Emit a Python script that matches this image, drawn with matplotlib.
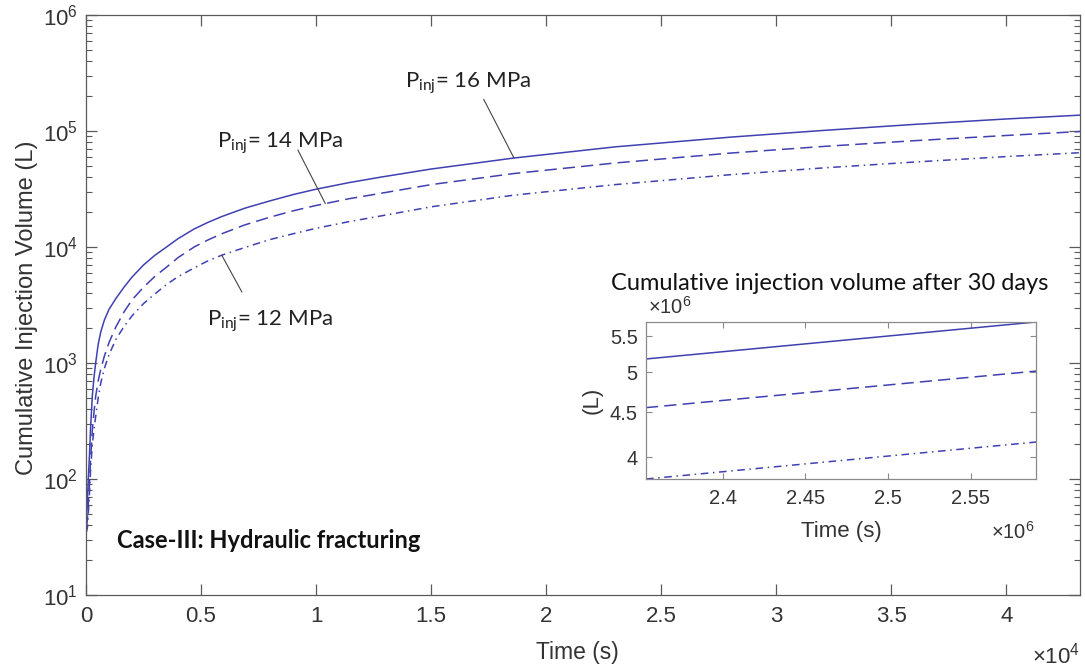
import matplotlib
matplotlib.use("Agg")
import matplotlib.pyplot as plt
from matplotlib.ticker import FixedLocator, FuncFormatter, NullLocator, LogLocator

plt.rcParams['font.family'] = ['Liberation Sans', 'DejaVu Sans']
plt.rcParams['mathtext.fontset'] = 'custom'
plt.rcParams['mathtext.rm'] = 'Liberation Sans'
plt.rcParams['mathtext.it'] = 'Liberation Sans:italic'
plt.rcParams['mathtext.bf'] = 'Liberation Sans:bold'

# ---------------- data ----------------
time_s = [20, 60, 100, 150, 200, 275, 350, 420, 530, 640, 800, 1000, 1300,
          1650, 2000, 2500, 3000, 3500, 4000, 4700, 5300, 5900, 6900, 8000,
          9000, 10000, 11400, 12800, 15000, 18600, 23000, 28000, 32000,
          36000, 40000, 43200]
vol_16MPa = [45, 65, 100, 160, 280, 520, 760, 1000, 1450, 1850, 2350, 2900,
             3600, 4500, 5500, 7000, 8500, 10000, 11800, 14300, 16300, 18300,
             21600, 25000, 28300, 31500, 35800, 40000, 47000, 58500, 73000,
             88500, 101000, 114000, 127000, 137000]
vol_14MPa = [38, 45, 60, 90, 150, 265, 380, 515, 700, 880, 1150, 1500, 2050,
             2750, 3500, 4500, 5600, 6700, 8100, 10000, 11500, 13000, 15500,
             18100, 20500, 22800, 26000, 29000, 34500, 43000, 53000, 64500,
             73500, 82500, 91500, 99000]
vol_12MPa = [35, 38, 50, 75, 120, 200, 270, 345, 500, 670, 900, 1180, 1600,
             2060, 2550, 3250, 3950, 4750, 5550, 6600, 7600, 8500, 9900,
             11600, 13000, 14500, 16500, 18500, 22200, 28000, 34500, 42000,
             48000, 54000, 60200, 65000]

inset_time_s = [2.3537e6, 2.5895e6]
inset_16MPa = [5.18e6, 5.71e6]
inset_14MPa = [4.557e6, 5.017e6]
inset_12MPa = [3.776e6, 4.162e6]

labels = ['P$_\\mathregular{inj}$= 16 MPa', 'P$_\\mathregular{inj}$= 14 MPa',
          'P$_\\mathregular{inj}$= 12 MPa']
xticks_main = [0, 5000, 10000, 15000, 20000, 25000, 30000, 35000, 40000]
xticks_inset = [2.40e6, 2.45e6, 2.50e6, 2.55e6]
yticks_inset = [4.0e6, 4.5e6, 5.0e6, 5.5e6]

# ---------------- style ----------------
W, H = 1085, 672
fig = plt.figure(figsize=(W / 100, H / 100), dpi=100)
blue = '#4040b2'
axcol = '#5a5a5a'
txtcol = '#333333'
lw = 1.1
styles = ['-', (0, (8, 4)), (0, (5, 3, 1, 3))]
annot_font = 'Lato'


def px_ax(l, t, r, b):
    return [l / W, 1 - b / H, (r - l) / W, (b - t) / H]


ax = fig.add_axes(px_ax(86, 15, 1080, 595))
for v, ls in zip([vol_16MPa, vol_14MPa, vol_12MPa], styles):
    ax.plot(time_s, v, color=blue, lw=lw, linestyle=ls)
ax.set_yscale('log')
ax.set_xlim(0, 43200)
ax.set_ylim(10, 1e6)
ax.xaxis.set_major_locator(FixedLocator(xticks_main))
ax.xaxis.set_major_formatter(FuncFormatter(lambda v, p: '%g' % (v / 1e4)))
ax.yaxis.set_major_locator(LogLocator(base=10, numticks=10))
ax.yaxis.set_minor_locator(LogLocator(base=10, subs=range(2, 10), numticks=10))

for s in ax.spines.values():
    s.set_color(axcol)
    s.set_linewidth(0.9)
ax.tick_params(which='both', direction='in', top=True, right=True,
               color=axcol, labelcolor=txtcol, labelsize=16)
ax.tick_params(which='major', length=8, width=0.9)
ax.tick_params(which='minor', length=4, width=0.8)
ax.tick_params(axis='x', pad=8)
ax.tick_params(axis='y', pad=6)

ax.set_xlabel('Time (s)', fontsize=16.5, color=txtcol)
ax.xaxis.set_label_coords(0.494, -0.08)
ax.set_ylabel('Cumulative Injection Volume (L)', fontsize=17, color=txtcol)
ax.yaxis.set_label_coords(-0.048, 0.495)
ax.text(1.0, -0.105, r'$\mathregular{\times10^{4}}$', transform=ax.transAxes,
        ha='right', va='center', fontsize=16, color=txtcol)

# annotations
label_pos = [(0.321, 0.876), (0.1318, 0.7724), (0.1217, 0.4655)]
line_start = [(17285, 1.875e5), (9207, 6.86e4), (6775, 4.09e3)]
line_end = [(time_s[29], vol_16MPa[29]), (10400, 23700), (time_s[21], vol_12MPa[21])]
for lab, (tx, ty), st, en in zip(labels, label_pos, line_start, line_end):
    ax.text(tx, ty, lab, transform=ax.transAxes, fontsize=16,
            family=annot_font, color='#222222', ha='left', va='baseline')
    ax.annotate('', xy=en, xytext=st,
                arrowprops=dict(arrowstyle='-', color='#444444', lw=0.8,
                                shrinkA=0, shrinkB=0))

ax.text(0.0312, 0.081, 'Case-III: Hydraulic fracturing', transform=ax.transAxes,
        fontsize=17, family=annot_font, fontweight='bold', color='#111111',
        ha='left', va='baseline')

# ---------------- inset ----------------
ai = fig.add_axes(px_ax(646, 322, 1036, 479))
for v, ls in zip([inset_16MPa, inset_14MPa, inset_12MPa], styles):
    ai.plot(inset_time_s, v, color=blue, lw=lw, linestyle=ls)
ai.set_yscale('log')
ai.set_xlim(inset_time_s[0], inset_time_s[-1])
ai.set_ylim(3.776e6, 5.71e6)
ai.xaxis.set_major_locator(FixedLocator(xticks_inset))
ai.xaxis.set_major_formatter(FuncFormatter(lambda v, p: '%g' % round(v / 1e6, 3)))
ai.yaxis.set_major_locator(FixedLocator(yticks_inset))
ai.yaxis.set_major_formatter(FuncFormatter(lambda v, p: '%g' % round(v / 1e6, 3)))
ai.yaxis.set_minor_locator(NullLocator())
ai.xaxis.set_minor_locator(NullLocator())
for s in ai.spines.values():
    s.set_color('#8a8a8a')
    s.set_linewidth(0.9)
ai.tick_params(which='both', direction='in', top=True, right=True,
               color='#8a8a8a', labelcolor=txtcol, labelsize=14.5, length=4)
ai.tick_params(axis='x', pad=7)
ai.tick_params(axis='y', pad=6)
ai.set_xlabel('Time (s)', fontsize=16, color=txtcol)
ai.xaxis.set_label_coords(0.5, -0.27)
ai.set_ylabel('(L)', fontsize=16, color=txtcol)
ai.yaxis.set_label_coords(-0.11, 0.503)
ai.text(0.005, 1.025, r'$\mathregular{\times10^{6}}$', transform=ai.transAxes,
        ha='left', va='bottom', fontsize=14.5, color=txtcol)
ai.text(0.997, -0.338, r'$\mathregular{\times10^{6}}$', transform=ai.transAxes,
        ha='right', va='center', fontsize=14.5, color=txtcol)
ai.text(0.472, 1.204, 'Cumulative injection volume after 30 days',
        transform=ai.transAxes, ha='center', va='baseline', fontsize=17,
        family=annot_font, color='#111111')

fig.savefig('out.png', dpi=100)
